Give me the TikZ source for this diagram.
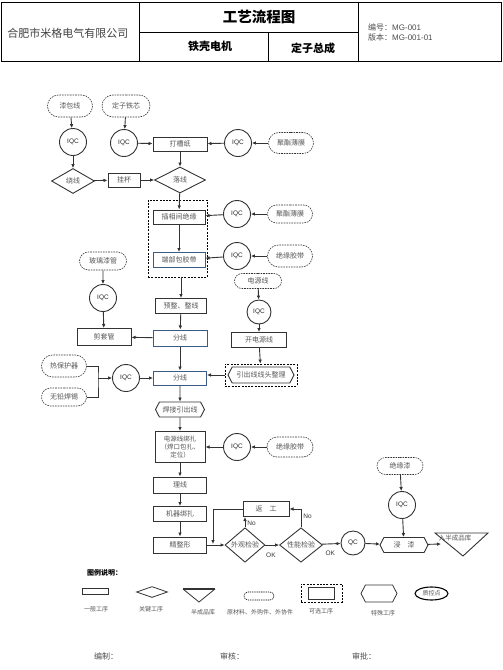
\documentclass[tikz,border=0pt]{standalone}
\usepackage{fontspec}
\setmainfont{Noto Sans CJK SC}
\newfontfamily\lat{Liberation Sans}
\usetikzlibrary{arrows.meta,shapes.geometric,shapes.symbols,shapes.misc,calc}
\definecolor{ln}{HTML}{333333}
\definecolor{tx}{HTML}{555555}
\definecolor{bl}{HTML}{3B5B85}
\tikzset{
  every node/.style={inner sep=0pt, font=\fontsize{7}{8.5}\selectfont, text=tx, align=center},
  proc/.style={rectangle, draw=ln, line width=1pt, minimum width=53pt, minimum height=15pt, fill=white},
  procb/.style={proc, draw=bl},
  raw/.style={rounded rectangle, draw=ln, line width=0.6pt, dash pattern=on 1.6pt off 1pt, minimum width=46pt, minimum height=20pt},
  iqc/.style={circle, draw=ln, line width=0.9pt, minimum size=27pt, font=\lat\fontsize{6.5}{7}\selectfont, text=black!85},
  key/.style={diamond, draw=ln, line width=0.9pt, minimum width=43pt, minimum height=25pt},
  spec/.style={signal, signal to=west and east, signal pointer angle=125, draw=ln, line width=0.9pt, minimum width=49pt, minimum height=15pt},
  optbox/.style={rectangle, draw=black, line width=0.8pt, dash pattern=on 2pt off 1.3pt},
  arr/.style={draw=ln, line width=0.9pt, -{Latex[length=4pt,width=3.6pt]}},
  lnk/.style={draw=ln, line width=0.9pt},
  lab/.style={font=\lat\fontsize{6.5}{7}\selectfont, text=black!80},
  legl/.style={font=\fontsize{6}{7}\selectfont, text=tx},
  hdr/.style={font=\fontsize{11}{12}\selectfont\bfseries, text=black}
}
\begin{document}
\begin{tikzpicture}[x=1pt,y=-1pt]
\useasboundingbox (0,0) rectangle (503,670);
% ---------- header ----------
\draw[line width=1pt] (1.5,2) rectangle (501.5,61.5);
\draw[line width=1pt] (139,2) -- (139,61.5) (358,2) -- (358,61.5) (139,32) -- (358,32) (268,32) -- (268,61.5);
\node[font=\fontsize{11}{12}\selectfont, text=black!75] (co) at (68,33) {合肥市米格电气有限公司};
\node[font=\fontsize{14.5}{15}\selectfont\bfseries, text=black] (ti) at (259,17) {工艺流程图};
\node[hdr] (m1) at (210,46) {铁壳电机};
\node[hdr] (m2) at (313,48) {定子总成};
\node[anchor=west, font=\fontsize{8}{9}\selectfont, text=black!70] (no) at (368,27) {编号：{\lat MG-001}};
\node[anchor=west, font=\fontsize{8}{9}\selectfont, text=black!70] (ve) at (368,37) {版本：{\lat MG-001-01}};
% ---------- flow: top ----------
\node[raw, minimum width=45pt, minimum height=22pt] (qbx) at (70,106) {漆包线};
\node[raw, minimum width=48pt, minimum height=22pt] (dtx) at (126,106) {定子铁芯};
\node[iqc] (i1) at (73,142) {IQC};
\node[iqc] (i2) at (124,143) {IQC};
\node[proc, minimum width=54pt, minimum height=14pt] (dcz) at (180,144) {打槽纸};
\node[iqc] (i3) at (238,143) {IQC};
\node[raw, minimum width=45pt, minimum height=21pt] (pe1) at (291,143) {聚酯薄膜};
\node[key] (rx) at (73,181) {绕线};
\node[proc, minimum width=32pt, minimum height=14pt] (gb) at (124,180) {挂杯};
\node[key, minimum width=51pt, minimum height=26pt] (lx) at (180,180) {落线};
% optional group
\node[optbox, minimum width=59pt, minimum height=77pt] (opt) at (177.5,238.5) {};
\node[proc, minimum width=52pt, minimum height=14pt] (cx) at (179,217) {插相间绝缘};
\node[procb, minimum width=52pt] (dbj) at (179,260) {端部包胶带};
\node[iqc] (i4) at (237,214) {IQC};
\node[raw, minimum width=45pt, minimum height=18pt] (pe2) at (290,214) {聚酯薄膜};
\node[iqc] (i5) at (237,256) {IQC};
\node[raw, minimum width=45pt, minimum height=22pt] (jd1) at (290,256) {绝缘胶带};
% middle
\node[raw, minimum width=47pt, minimum height=18pt] (blg) at (103,261) {玻璃漆管};
\node[iqc] (i6) at (103,298) {IQC};
\node[proc, minimum width=54pt, minimum height=17pt] (jtg) at (104,337) {剪套管};
\node[proc, minimum width=51pt] (yz) at (181,306) {预整、整线};
\node[procb, minimum width=54pt, minimum height=16pt] (fx1) at (180,338) {分线};
\node[raw, minimum width=47pt, minimum height=15pt] (dyx) at (258,281) {电源线};
\node[iqc, minimum size=24pt] (i7) at (259,312) {IQC};
\node[proc, minimum width=55pt] (kdy) at (259,340) {开电源线};
\node[optbox, minimum width=72pt, minimum height=22pt] (yxb) at (261,375) {};
\node[spec, minimum width=66pt, minimum height=16pt] (yxh) at (261,375) {引出线线头整理};
\node[raw, minimum width=45pt, minimum height=22pt] (rbh) at (64,366) {热保护器};
\node[raw, minimum width=45pt, minimum height=18pt] (wqh) at (64,397) {无铅焊锡};
\coordinate (jn) at (98,378);
\node[iqc] (i8) at (126,378) {IQC};
\node[procb, minimum width=53pt, minimum height=14pt] (fx2) at (180,378) {分线};
\node[spec] (hj) at (180,409.5) {焊接引出线};
\node[proc, minimum width=50pt, minimum height=31pt, font=\fontsize{6.5}{8}\selectfont] (dyb) at (180,447) {电源线绑扎\\（焊口包扎、\\定位）};
\node[iqc] (i9) at (237,447) {IQC};
\node[raw, minimum width=46pt, minimum height=20pt] (jd2) at (290,447) {绝缘胶带};
\node[proc, minimum width=53pt, minimum height=16pt] (lx2) at (180,485) {理线};
\node[proc, minimum width=53pt] (jq) at (180,514) {机器绑扎};
\node[proc, minimum width=53pt, minimum height=16pt] (jzx) at (180,545) {精整形};
% bottom row
\node[key, minimum width=40pt, minimum height=20pt] (wg) at (245,545) {外观检验};
\node[key, minimum width=43pt, minimum height=25pt] (xn) at (301,545) {性能检验};
\node[proc, minimum width=46pt, minimum height=15pt] (fg) at (266,509) {返\quad 工};
\node[iqc, minimum size=24pt] (qc) at (353,543) {QC};
\node[spec, minimum width=48pt, minimum height=15pt] (jqx) at (404,545) {浸\quad 漆};
\node[raw, minimum width=46pt, minimum height=17pt] (jyq) at (400,466) {绝缘漆};
\node[iqc] (i10) at (402,505) {IQC};
\draw[ln, line width=0.9pt] (435,533) -- (488,533) -- (463,556) -- cycle;
\coordinate (trin) at (441,544);
\node[font=\fontsize{6.5}{7}\selectfont] (btxt) at (455,538.5) {入半成品库};
\coordinate (mj) at (213,545);
% ---------- connectors ----------
\draw[arr] (qbx) -- (i1);
\draw[arr] (i1) -- (rx);
\draw[arr] (rx) -- (gb);
\draw[arr] (gb) -- (lx);
\draw[arr] (dtx) -- (i2);
\draw[arr] (i2) -- (dcz);
\draw[arr] (pe1) -- (i3);
\draw[arr] (i3) -- (dcz);
\draw[arr] (dcz) -- (lx);
\draw[arr] (lx) -- (cx);
\draw[arr] (cx) -- (dbj);
\draw[arr] (pe2) -- (i4);
\draw[arr] (i4) -- (cx);
\draw[arr] (jd1) -- (i5);
\draw[arr] (i5) -- (dbj);
\draw[arr] (opt.south -| yz.north) -- (yz.north);
\draw[arr] (yz) -- (fx1);
\draw[arr] (fx1) -- (jtg);
\draw[arr] (blg) -- (i6);
\draw[arr] (i6) -- (jtg);
\draw[arr] (fx1) -- (fx2);
\draw[arr] (dyx) -- (i7);
\draw[arr] (i7) -- (kdy);
\draw[arr] (kdy) -- (yxb);
\draw[arr] (yxb.west) -- (yxb.west -| fx2.east);
\draw[lnk] (rbh.east) -| (jn) |- (wqh.east);
\draw[arr] (jn) -- (i8);
\draw[arr] (i8) -- (fx2);
\draw[arr] (fx2) -- (hj);
\draw[arr] (hj) -- (dyb);
\draw[arr] (jd2) -- (i9);
\draw[arr] (i9) -- (dyb);
\draw[arr] (dyb) -- (lx2);
\draw[arr] (lx2) -- (jq);
\draw[arr] (jq) -- (jzx);
\draw[arr] (jzx) -- (wg);
\draw[arr] (wg) -- node[lab, below=8pt, pos=0.4] (ok1) {OK} (xn);
\draw[arr] (xn) -- node[lab, below=7pt, pos=0.45] (ok2) {OK} (qc);
\draw[arr] (qc) -- (jqx);
\draw[arr] (jqx) -- (trin);
\draw[arr] (wg.north) -- node[lab, right=2pt, pos=0.4] (no1) {No} (wg.north |- fg.south);
\draw[arr] (xn.north) |- node[lab, right=2pt, pos=0.3] (no2) {No} (fg.east);
\draw[arr] (fg.west) -| ($(mj)+(0,-1)$);
\draw[arr] (jyq) -- (i10);
\draw[arr] (i10) -- (jqx);
% ---------- legend ----------
\node[anchor=west, font=\fontsize{7}{8}\selectfont\bfseries, text=black] (lg) at (87,573) {图例说明：};
\node[proc, line width=0.8pt, minimum width=26pt, minimum height=6pt] (l1) at (95,591) {};
\node[legl] (l1t) at (96,609) {一般工序};
\node[key, line width=0.8pt, minimum width=31pt, minimum height=11pt] (l2) at (152,592) {};
\node[legl] (l2t) at (151,609) {关键工序};
\draw[ln, line width=0.8pt] (183,589) -- (199,602) -- (215,589);
\draw[ln, line width=1.6pt] (183,589) -- (215,589);
\node[legl] (l3t) at (203,612) {半成品库};
\node[raw, draw=black, dash pattern=on 1.3pt off 0.9pt, minimum width=30pt, minimum height=8pt] (l4) at (259,596) {};
\node[legl] (l4t) at (260,612) {原材料、外购件、外协件};
\node[optbox, minimum width=41pt, minimum height=18pt] (l5) at (321.5,593) {};
\node[proc, line width=0.8pt, minimum width=26pt, minimum height=12pt] (l5i) at (321,593) {};
\node[legl] (l5t) at (321,611) {可选工序};
\node[spec, line width=0.8pt, minimum width=36pt, minimum height=17pt] (l6) at (379,593.5) {};
\node[legl] (l6t) at (383,613) {特殊工序};
\node[ellipse, draw=black, line width=1.1pt, minimum width=33pt, minimum height=13pt, font=\fontsize{6}{7}\selectfont] (l7) at (431.5,593.5) {质控点};
% ---------- footer ----------
\node[font=\fontsize{8}{9}\selectfont, text=black!70] (f1) at (106,656) {编制：};
\node[font=\fontsize{8}{9}\selectfont, text=black!70] (f2) at (232,656) {审核：};
\node[font=\fontsize{8}{9}\selectfont, text=black!70] (f3) at (364,656) {审批：};
\end{tikzpicture}
\end{document}
